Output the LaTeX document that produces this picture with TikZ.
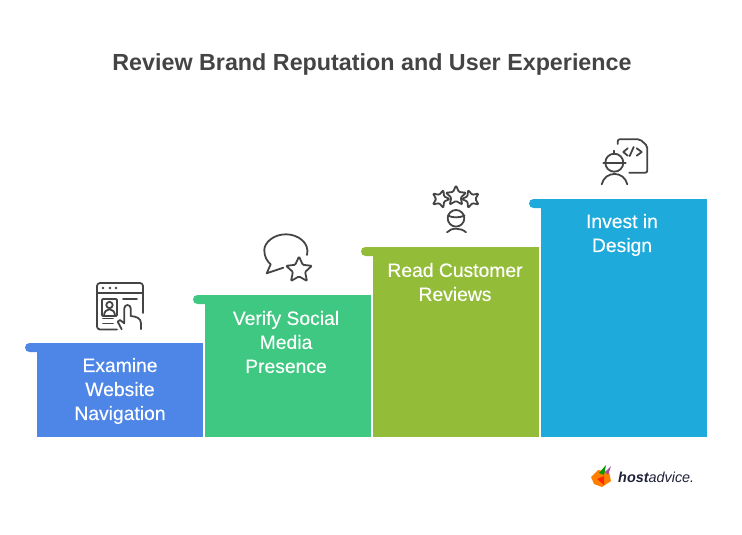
\documentclass[tikz,border=0pt]{standalone}
\usepackage{fontspec}
\setmainfont{Liberation Sans}
\newfontfamily\stepfont[FakeBold=0.25]{Liberation Sans}
\usetikzlibrary{shapes.geometric}
\definecolor{navblue}{HTML}{4D86E6}
\definecolor{socialgreen}{HTML}{3EC882}
\definecolor{reviewolive}{HTML}{93BC38}
\definecolor{designcyan}{HTML}{1EABDC}
\definecolor{inkgray}{HTML}{444444}
\definecolor{logoink}{HTML}{1F2238}
\tikzset{
    steplabel/.style={text=white, align=center, font=\stepfont\fontsize{19.3}{24}\selectfont},
    iconline/.style={draw=inkgray, line width=1.8pt, line cap=round, line join=round},
    iconstar/.style={star, star points=5, star point ratio=2.1, inner sep=0pt, draw=inkgray, line width=1.8pt, rounded corners=1pt},
}

\begin{document}
\begin{tikzpicture}[x=1pt, y=-1pt]
    \useasboundingbox (0,0) rectangle (742,535);

    \node[text=inkgray, font=\fontsize{23.3}{28}\bfseries\selectfont] (title) at (372,64.5) {Review Brand Reputation and User Experience};

    % steps
    \fill[navblue, rounded corners=4.5pt] (25,343) rectangle (45,352);
    \fill[navblue] (37,343) rectangle (203,437);
    \fill[socialgreen, rounded corners=4.5pt] (193,295) rectangle (213,304);
    \fill[socialgreen] (205,295) rectangle (371,437);
    \fill[reviewolive, rounded corners=4.5pt] (361,247) rectangle (381,256);
    \fill[reviewolive] (373,247) rectangle (539,437);
    \fill[designcyan, rounded corners=4.5pt] (529,199) rectangle (549,208);
    \fill[designcyan] (541,199) rectangle (707,437);

    \node[steplabel] (nav) at (120,391) {Examine\\Website\\Navigation};
    \node[steplabel] (social) at (286,342) {Verify Social\\Media\\Presence};
    \node[steplabel] (reviews) at (455,282) {Read Customer\\Reviews};
    \node[steplabel] (design) at (622,235) {Invest in\\Design};

    % browser icon
    \draw[iconline, rounded corners=3pt] (143,313) -- (143,283) -- (97,283) -- (97,329.5) -- (117,329.5);
    \draw[iconline] (97,293) -- (143,293);
    \fill[inkgray] (103,288) circle (1.4) (110,288) circle (1.4) (116,288) circle (1.4);
    \draw[iconline, rounded corners=1pt] (102,299) rectangle (117,316);
    \draw[iconline] (109.5,305) circle (3.2);
    \draw[iconline] (104,316) .. controls (104,307) and (115,307) .. (115,316);
    \draw[iconline] (103,318.5) -- (113,318.5) (103,323.5) -- (113,323.5) (123,299) -- (137,299);
    \draw[iconline] (121.7,329.3) -- (117.7,321.7) -- (120,320) -- (124.3,323.3) -- (124.3,308.3)
        .. controls (124.3,304) and (130.7,304) .. (130.7,308.3) -- (130.7,316)
        .. controls (136,316.5) and (141,318) .. (141,323.3) -- (141,329.3);

    % speech bubble icon
    \draw[iconline] (307,255) .. controls (310,243) and (298,234.3) .. (286,234.3)
        .. controls (273,234.3) and (264.3,243) .. (264.3,250)
        .. controls (264.3,257) and (267,261) .. (270.7,264.3) -- (266.7,273.3) -- (283.3,267.7);
    \node[iconstar, minimum size=27pt] (bubblestar) at (299,270) {};

    % rating icon
    \node[iconstar, minimum size=21pt] (midstar) at (456,196) {};
    \node[iconstar, minimum size=18.5pt, rotate=-18] (leftstar) at (440.5,199) {};
    \node[iconstar, minimum size=18.5pt, rotate=18] (rightstar) at (471,199) {};
    \draw[iconline] (456,218.3) circle (8.3);
    \draw[iconline] (448,215.5) .. controls (452,218) and (460,218) .. (464.5,215.5);
    \draw[iconline] (447,232.3) .. controls (451,227.5) and (461,227.5) .. (466,232.3);

    % developer icon
    \draw[iconline, rounded corners=2pt] (617.7,144) -- (617.7,139.3) -- (640,139.3) -- (647.3,146) -- (647.3,172.7) -- (629.3,172.7);
    \draw[iconline] (627.7,148.3) -- (623.3,152) -- (627.7,155.7) (629.7,156) -- (633.7,147) (636.7,148.3) -- (641.7,152) -- (636.7,155.7);
    \draw[iconline] (614.3,162.7) circle (9);
    \draw[iconline] (603.3,162.7) -- (625.7,162.7) (614.3,150.7) -- (614.3,154);
    \draw[iconline] (601.7,184.3) .. controls (605,170.5) and (624,170.5) .. (627.3,184.3);

    % logo
    \fill[orange] (591,477) -- (598,470) -- (609,472) -- (611,481) -- (602,487) -- (594,484) -- cycle;
    \fill[red!70!orange] (597,479) -- (604,476) -- (604,485) -- cycle;
    \fill[green!60!black] (599,473) -- (606,465) -- (604,475) -- cycle;
    \fill[violet!70] (605,472) -- (611,466) -- (608,475) -- cycle;
    \node[text=logoink, anchor=west, inner sep=0pt, font=\fontsize{14.4}{18}\itshape\selectfont] (logo) at (618,477) {\textbf{host}advice.};
\end{tikzpicture}
\end{document}
